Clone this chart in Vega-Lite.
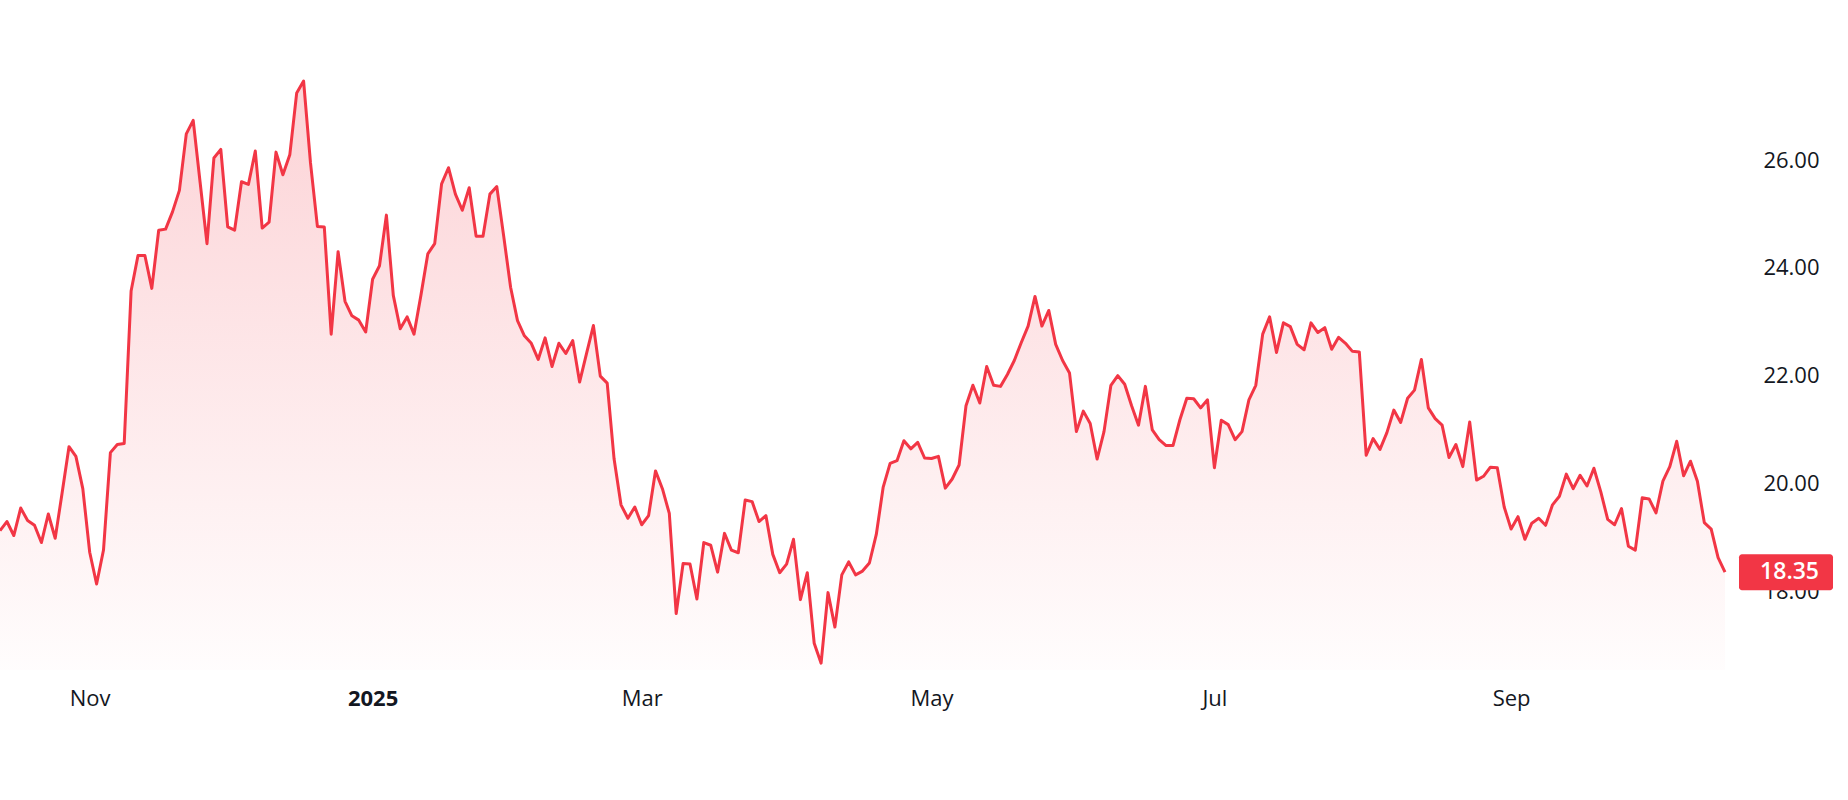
{
  "$schema": "https://vega.github.io/schema/vega-lite/v6.json",
  "width": 1725,
  "height": 670,
  "autosize": {"type": "none"},
  "padding": {"left": 0, "top": 0, "right": 123, "bottom": 130},
  "background": "white",
  "config": {
    "view": {"stroke": null},
    "font": "Open Sans",
    "axis": {"labelFont": "Open Sans", "labelColor": "#131722", "labelFontSize": 22}
  },
  "data": {
    "values": [
      {"date": "2024-10-15", "close": 19.12}, {"date": "2024-10-16", "close": 19.29}, {"date": "2024-10-17", "close": 19.03},
      {"date": "2024-10-18", "close": 19.54}, {"date": "2024-10-21", "close": 19.31}, {"date": "2024-10-22", "close": 19.22},
      {"date": "2024-10-23", "close": 18.90}, {"date": "2024-10-24", "close": 19.43}, {"date": "2024-10-25", "close": 18.98},
      {"date": "2024-10-28", "close": 19.82}, {"date": "2024-10-29", "close": 20.68}, {"date": "2024-10-30", "close": 20.50},
      {"date": "2024-10-31", "close": 19.90}, {"date": "2024-11-01", "close": 18.72}, {"date": "2024-11-04", "close": 18.13},
      {"date": "2024-11-05", "close": 18.76}, {"date": "2024-11-06", "close": 20.57}, {"date": "2024-11-07", "close": 20.72},
      {"date": "2024-11-08", "close": 20.74}, {"date": "2024-11-11", "close": 23.57}, {"date": "2024-11-12", "close": 24.23},
      {"date": "2024-11-13", "close": 24.23}, {"date": "2024-11-14", "close": 23.62}, {"date": "2024-11-15", "close": 24.70},
      {"date": "2024-11-18", "close": 24.72}, {"date": "2024-11-19", "close": 25.04}, {"date": "2024-11-20", "close": 25.44},
      {"date": "2024-11-21", "close": 26.49}, {"date": "2024-11-22", "close": 26.74}, {"date": "2024-11-25", "close": 25.59},
      {"date": "2024-11-26", "close": 24.45}, {"date": "2024-11-27", "close": 26.04}, {"date": "2024-11-29", "close": 26.20},
      {"date": "2024-12-02", "close": 24.76}, {"date": "2024-12-03", "close": 24.70}, {"date": "2024-12-04", "close": 25.60},
      {"date": "2024-12-05", "close": 25.55}, {"date": "2024-12-06", "close": 26.17}, {"date": "2024-12-09", "close": 24.74},
      {"date": "2024-12-10", "close": 24.85}, {"date": "2024-12-11", "close": 26.15}, {"date": "2024-12-12", "close": 25.73},
      {"date": "2024-12-13", "close": 26.10}, {"date": "2024-12-16", "close": 27.25}, {"date": "2024-12-17", "close": 27.47},
      {"date": "2024-12-18", "close": 25.95}, {"date": "2024-12-19", "close": 24.77}, {"date": "2024-12-20", "close": 24.76},
      {"date": "2024-12-23", "close": 22.77}, {"date": "2024-12-24", "close": 24.30}, {"date": "2024-12-26", "close": 23.38},
      {"date": "2024-12-27", "close": 23.11}, {"date": "2024-12-30", "close": 23.03}, {"date": "2024-12-31", "close": 22.81},
      {"date": "2025-01-02", "close": 23.79}, {"date": "2025-01-03", "close": 24.04}, {"date": "2025-01-06", "close": 24.98},
      {"date": "2025-01-07", "close": 23.49}, {"date": "2025-01-08", "close": 22.87}, {"date": "2025-01-10", "close": 23.09},
      {"date": "2025-01-13", "close": 22.77}, {"date": "2025-01-14", "close": 23.49}, {"date": "2025-01-15", "close": 24.26},
      {"date": "2025-01-16", "close": 24.45}, {"date": "2025-01-17", "close": 25.56}, {"date": "2025-01-21", "close": 25.86},
      {"date": "2025-01-22", "close": 25.37}, {"date": "2025-01-23", "close": 25.07}, {"date": "2025-01-24", "close": 25.49},
      {"date": "2025-01-27", "close": 24.59}, {"date": "2025-01-28", "close": 24.59}, {"date": "2025-01-29", "close": 25.37},
      {"date": "2025-01-30", "close": 25.51}, {"date": "2025-01-31", "close": 24.59}, {"date": "2025-02-03", "close": 23.64},
      {"date": "2025-02-04", "close": 23.02}, {"date": "2025-02-05", "close": 22.74}, {"date": "2025-02-06", "close": 22.60},
      {"date": "2025-02-07", "close": 22.30}, {"date": "2025-02-10", "close": 22.70}, {"date": "2025-02-11", "close": 22.17},
      {"date": "2025-02-12", "close": 22.60}, {"date": "2025-02-13", "close": 22.41}, {"date": "2025-02-14", "close": 22.65},
      {"date": "2025-02-18", "close": 21.88}, {"date": "2025-02-19", "close": 22.41}, {"date": "2025-02-20", "close": 22.93},
      {"date": "2025-02-21", "close": 21.99}, {"date": "2025-02-24", "close": 21.86}, {"date": "2025-02-25", "close": 20.45},
      {"date": "2025-02-26", "close": 19.60}, {"date": "2025-02-27", "close": 19.35}, {"date": "2025-02-28", "close": 19.56},
      {"date": "2025-03-03", "close": 19.23}, {"date": "2025-03-04", "close": 19.40}, {"date": "2025-03-05", "close": 20.23},
      {"date": "2025-03-06", "close": 19.90}, {"date": "2025-03-07", "close": 19.44}, {"date": "2025-03-10", "close": 17.58},
      {"date": "2025-03-11", "close": 18.51}, {"date": "2025-03-12", "close": 18.50}, {"date": "2025-03-13", "close": 17.85},
      {"date": "2025-03-14", "close": 18.90}, {"date": "2025-03-17", "close": 18.85}, {"date": "2025-03-18", "close": 18.35},
      {"date": "2025-03-19", "close": 19.07}, {"date": "2025-03-20", "close": 18.76}, {"date": "2025-03-21", "close": 18.71},
      {"date": "2025-03-24", "close": 19.69}, {"date": "2025-03-25", "close": 19.66}, {"date": "2025-03-26", "close": 19.29},
      {"date": "2025-03-27", "close": 19.40}, {"date": "2025-03-28", "close": 18.68}, {"date": "2025-03-31", "close": 18.34},
      {"date": "2025-04-01", "close": 18.50}, {"date": "2025-04-02", "close": 18.96}, {"date": "2025-04-03", "close": 17.84},
      {"date": "2025-04-04", "close": 18.34}, {"date": "2025-04-07", "close": 17.03}, {"date": "2025-04-08", "close": 16.66},
      {"date": "2025-04-09", "close": 17.97}, {"date": "2025-04-10", "close": 17.33}, {"date": "2025-04-11", "close": 18.30},
      {"date": "2025-04-14", "close": 18.54}, {"date": "2025-04-15", "close": 18.30}, {"date": "2025-04-16", "close": 18.37},
      {"date": "2025-04-17", "close": 18.52}, {"date": "2025-04-21", "close": 19.05}, {"date": "2025-04-22", "close": 19.93},
      {"date": "2025-04-23", "close": 20.37}, {"date": "2025-04-24", "close": 20.42}, {"date": "2025-04-25", "close": 20.79},
      {"date": "2025-04-28", "close": 20.64}, {"date": "2025-04-29", "close": 20.76}, {"date": "2025-04-30", "close": 20.47},
      {"date": "2025-05-01", "close": 20.46}, {"date": "2025-05-02", "close": 20.50}, {"date": "2025-05-05", "close": 19.91},
      {"date": "2025-05-06", "close": 20.08}, {"date": "2025-05-07", "close": 20.34}, {"date": "2025-05-08", "close": 21.44},
      {"date": "2025-05-09", "close": 21.82}, {"date": "2025-05-12", "close": 21.49}, {"date": "2025-05-13", "close": 22.17},
      {"date": "2025-05-14", "close": 21.82}, {"date": "2025-05-15", "close": 21.80}, {"date": "2025-05-16", "close": 22.02},
      {"date": "2025-05-19", "close": 22.28}, {"date": "2025-05-20", "close": 22.61}, {"date": "2025-05-21", "close": 22.92},
      {"date": "2025-05-22", "close": 23.47}, {"date": "2025-05-23", "close": 22.92}, {"date": "2025-05-27", "close": 23.21},
      {"date": "2025-05-28", "close": 22.58}, {"date": "2025-05-29", "close": 22.28}, {"date": "2025-05-30", "close": 22.05},
      {"date": "2025-06-02", "close": 20.96}, {"date": "2025-06-03", "close": 21.34}, {"date": "2025-06-04", "close": 21.11},
      {"date": "2025-06-05", "close": 20.45}, {"date": "2025-06-06", "close": 20.96}, {"date": "2025-06-09", "close": 21.82},
      {"date": "2025-06-10", "close": 22.00}, {"date": "2025-06-11", "close": 21.84}, {"date": "2025-06-12", "close": 21.44},
      {"date": "2025-06-13", "close": 21.08}, {"date": "2025-06-16", "close": 21.80}, {"date": "2025-06-17", "close": 20.99},
      {"date": "2025-06-18", "close": 20.81}, {"date": "2025-06-20", "close": 20.70}, {"date": "2025-06-23", "close": 20.70},
      {"date": "2025-06-24", "close": 21.18}, {"date": "2025-06-25", "close": 21.58}, {"date": "2025-06-26", "close": 21.57},
      {"date": "2025-06-27", "close": 21.40}, {"date": "2025-06-30", "close": 21.55}, {"date": "2025-07-01", "close": 20.29},
      {"date": "2025-07-02", "close": 21.17}, {"date": "2025-07-03", "close": 21.09}, {"date": "2025-07-07", "close": 20.81},
      {"date": "2025-07-08", "close": 20.96}, {"date": "2025-07-09", "close": 21.55}, {"date": "2025-07-10", "close": 21.82},
      {"date": "2025-07-11", "close": 22.77}, {"date": "2025-07-14", "close": 23.09}, {"date": "2025-07-15", "close": 22.43},
      {"date": "2025-07-16", "close": 22.98}, {"date": "2025-07-17", "close": 22.91}, {"date": "2025-07-18", "close": 22.58},
      {"date": "2025-07-21", "close": 22.48}, {"date": "2025-07-22", "close": 22.98}, {"date": "2025-07-23", "close": 22.80},
      {"date": "2025-07-24", "close": 22.89}, {"date": "2025-07-25", "close": 22.49}, {"date": "2025-07-28", "close": 22.71},
      {"date": "2025-07-29", "close": 22.60}, {"date": "2025-07-30", "close": 22.45}, {"date": "2025-07-31", "close": 22.44},
      {"date": "2025-08-01", "close": 20.52}, {"date": "2025-08-04", "close": 20.83}, {"date": "2025-08-05", "close": 20.63},
      {"date": "2025-08-06", "close": 20.94}, {"date": "2025-08-07", "close": 21.36}, {"date": "2025-08-08", "close": 21.13},
      {"date": "2025-08-11", "close": 21.58}, {"date": "2025-08-12", "close": 21.73}, {"date": "2025-08-13", "close": 22.30},
      {"date": "2025-08-14", "close": 21.40}, {"date": "2025-08-15", "close": 21.20}, {"date": "2025-08-18", "close": 21.08},
      {"date": "2025-08-19", "close": 20.48}, {"date": "2025-08-20", "close": 20.72}, {"date": "2025-08-21", "close": 20.31},
      {"date": "2025-08-22", "close": 21.14}, {"date": "2025-08-25", "close": 20.06}, {"date": "2025-08-26", "close": 20.13},
      {"date": "2025-08-27", "close": 20.30}, {"date": "2025-08-28", "close": 20.29}, {"date": "2025-08-29", "close": 19.56},
      {"date": "2025-09-02", "close": 19.15}, {"date": "2025-09-03", "close": 19.38}, {"date": "2025-09-04", "close": 18.96},
      {"date": "2025-09-05", "close": 19.26}, {"date": "2025-09-08", "close": 19.35}, {"date": "2025-09-09", "close": 19.22},
      {"date": "2025-09-10", "close": 19.60}, {"date": "2025-09-11", "close": 19.76}, {"date": "2025-09-12", "close": 20.17},
      {"date": "2025-09-15", "close": 19.90}, {"date": "2025-09-16", "close": 20.15}, {"date": "2025-09-17", "close": 19.95},
      {"date": "2025-09-18", "close": 20.28}, {"date": "2025-09-19", "close": 19.84}, {"date": "2025-09-22", "close": 19.33},
      {"date": "2025-09-23", "close": 19.23}, {"date": "2025-09-24", "close": 19.53}, {"date": "2025-09-25", "close": 18.83},
      {"date": "2025-09-26", "close": 18.76}, {"date": "2025-09-29", "close": 19.73}, {"date": "2025-09-30", "close": 19.71},
      {"date": "2025-10-01", "close": 19.45}, {"date": "2025-10-02", "close": 20.04}, {"date": "2025-10-03", "close": 20.31},
      {"date": "2025-10-06", "close": 20.78}, {"date": "2025-10-07", "close": 20.14}, {"date": "2025-10-08", "close": 20.41},
      {"date": "2025-10-09", "close": 20.04}, {"date": "2025-10-10", "close": 19.27}, {"date": "2025-10-13", "close": 19.15},
      {"date": "2025-10-14", "close": 18.62}, {"date": "2025-10-15", "close": 18.35}
    ]
  },
  "encoding": {
    "x": {
      "field": "date",
      "type": "ordinal",
      "sort": "ascending",
      "scale": {"type": "point", "padding": 0},
      "axis": {
        "title": null,
        "values": ["2024-11-01", "2025-01-02", "2025-03-03", "2025-05-01", "2025-07-01", "2025-09-02"],
        "labelExpr": "datum.value == '2024-11-01' ? 'Nov' : datum.value == '2025-01-02' ? '2025' : datum.value == '2025-03-03' ? 'Mar' : datum.value == '2025-05-01' ? 'May' : datum.value == '2025-07-01' ? 'Jul' : 'Sep'",
        "labelFontWeight": {"condition": {"test": "datum.value == '2025-01-02'", "value": "bold"}, "value": "normal"},
        "labelAngle": 0,
        "labelOverlap": false,
        "labelPadding": 18,
        "ticks": false,
        "tickSize": 0,
        "domain": false,
        "grid": false
      }
    },
    "y": {
      "field": "close",
      "type": "quantitative",
      "scale": {"domain": [16.533, 28.975], "zero": false, "nice": false},
      "axis": {
        "orient": "right",
        "title": null,
        "values": [18, 20, 22, 24, 26],
        "format": ".2f",
        "labelAlign": "right",
        "labelPadding": 94,
        "ticks": false,
        "tickSize": 0,
        "domain": false,
        "grid": false
      }
    }
  },
  "layer": [
    {
      "mark": {
        "type": "area",
        "color": {
          "gradient": "linear",
          "x1": 0, "y1": 0, "x2": 0, "y2": 1,
          "stops": [
            {"offset": 0, "color": "rgba(242,54,69,0.22)"},
            {"offset": 1, "color": "rgba(242,54,69,0.01)"}
          ]
        }
      },
      "encoding": {
        "y2": {"datum": 16.533}
      }
    },
    {
      "mark": {"type": "line", "color": "#F23645", "strokeWidth": 3, "strokeJoin": "round"}
    },
    {
      "transform": [{"filter": "datum.date == '2025-10-15'"}],
      "mark": {
        "type": "rect",
        "color": "#F23645",
        "cornerRadius": 3,
        "xOffset": 14,
        "x2Offset": 108,
        "yOffset": -18,
        "y2Offset": 18
      },
      "encoding": {
        "x2": {"field": "date"},
        "y2": {"field": "close"}
      }
    },
    {
      "transform": [{"filter": "datum.date == '2025-10-15'"}],
      "mark": {
        "type": "text",
        "color": "white",
        "font": "Open Sans",
        "fontSize": 23,
        "fontWeight": 600,
        "align": "right",
        "baseline": "middle",
        "dx": 94
      },
      "encoding": {
        "text": {"field": "close", "type": "quantitative", "format": ".2f"}
      }
    }
  ]
}
